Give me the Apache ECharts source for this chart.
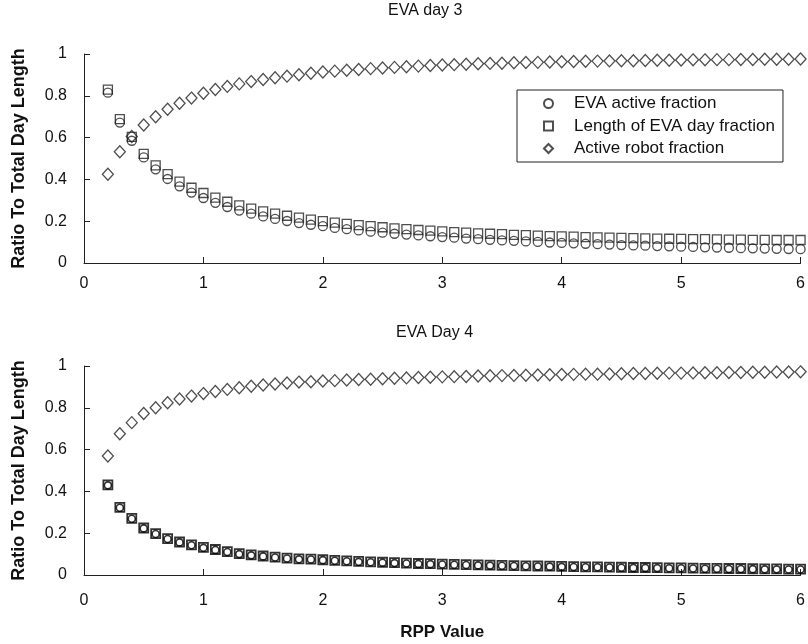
<!DOCTYPE html>
<html><head><meta charset="utf-8">
<script src="https://cdn.jsdelivr.net/npm/echarts@6/dist/echarts.min.js"></script>
<style>html,body{margin:0;padding:0;background:#fff}#c{width:808px;height:644px}</style>
</head><body><div id="c"></div>
<script>
var rpp = [0.2,0.3,0.4,0.5,0.6,0.7,0.8,0.9,1.0,1.1,1.2,1.3,1.4,1.5,1.6,1.7,1.8,1.9,2.0,2.1,2.2,2.3,2.4,2.5,2.6,2.7,2.8,2.9,3.0,3.1,3.2,3.3,3.4,3.5,3.6,3.7,3.8,3.9,4.0,4.1,4.2,4.3,4.4,4.5,4.6,4.7,4.8,4.9,5.0,5.1,5.2,5.3,5.4,5.5,5.6,5.7,5.8,5.9,6.0];
var seriesNames = ['EVA active fraction','Length of EVA day fraction','Active robot fraction'];
var panelTitles = ['EVA day 3','EVA Day 4'];
var yTicks = [0,0.2,0.4,0.6,0.8,1];
var xTicks = [0,1,2,3,4,5,6];

// Day 3
var d3Active = [0.815,0.672,0.585,0.505,0.448,0.402,0.367,0.337,0.311,0.288,0.268,0.251,0.236,0.223,0.211,0.201,0.191,0.183,0.176,0.168,0.162,0.156,0.150,0.145,0.140,0.136,0.132,0.128,0.124,0.121,0.117,0.114,0.111,0.108,0.106,0.103,0.101,0.098,0.096,0.094,0.092,0.090,0.088,0.086,0.084,0.083,0.081,0.080,0.078,0.077,0.075,0.074,0.073,0.071,0.070,0.069,0.068,0.067,0.066];
var d3Length = [0.830,0.688,0.603,0.522,0.467,0.425,0.389,0.360,0.335,0.313,0.293,0.276,0.260,0.247,0.236,0.226,0.217,0.208,0.200,0.193,0.187,0.181,0.176,0.171,0.166,0.162,0.158,0.155,0.151,0.148,0.145,0.142,0.140,0.138,0.135,0.133,0.131,0.129,0.127,0.126,0.124,0.123,0.121,0.120,0.119,0.118,0.117,0.116,0.115,0.114,0.114,0.113,0.112,0.112,0.111,0.111,0.110,0.110,0.110];
var d3Robot = [0.425,0.532,0.605,0.660,0.700,0.736,0.764,0.789,0.812,0.830,0.845,0.857,0.868,0.878,0.886,0.894,0.901,0.908,0.914,0.918,0.922,0.926,0.930,0.933,0.936,0.939,0.942,0.945,0.947,0.949,0.951,0.953,0.955,0.956,0.958,0.959,0.960,0.962,0.963,0.964,0.965,0.966,0.967,0.968,0.968,0.969,0.970,0.970,0.971,0.972,0.972,0.973,0.973,0.974,0.974,0.975,0.975,0.975,0.976];
// Day 4
var d4Active = [0.429,0.322,0.269,0.223,0.196,0.172,0.156,0.142,0.130,0.120,0.110,0.100,0.094,0.089,0.084,0.079,0.075,0.074,0.071,0.068,0.066,0.063,0.061,0.059,0.057,0.055,0.053,0.052,0.050,0.049,0.048,0.046,0.045,0.044,0.043,0.042,0.041,0.040,0.039,0.038,0.037,0.037,0.036,0.035,0.034,0.034,0.033,0.032,0.032,0.031,0.030,0.030,0.029,0.029,0.028,0.027,0.027,0.026,0.026];
var d4Length = [0.431,0.324,0.271,0.225,0.198,0.174,0.158,0.144,0.132,0.122,0.112,0.102,0.096,0.091,0.086,0.081,0.077,0.076,0.073,0.070,0.068,0.065,0.063,0.061,0.059,0.057,0.055,0.054,0.052,0.051,0.050,0.048,0.047,0.046,0.045,0.044,0.043,0.042,0.041,0.040,0.039,0.039,0.038,0.037,0.036,0.036,0.035,0.034,0.034,0.033,0.032,0.032,0.031,0.031,0.030,0.029,0.029,0.028,0.028];
var d4Robot = [0.569,0.676,0.729,0.773,0.800,0.824,0.842,0.856,0.868,0.878,0.888,0.896,0.903,0.909,0.914,0.919,0.923,0.925,0.928,0.930,0.933,0.935,0.937,0.939,0.941,0.943,0.945,0.946,0.948,0.949,0.950,0.952,0.953,0.954,0.955,0.956,0.957,0.958,0.959,0.960,0.961,0.961,0.962,0.963,0.964,0.964,0.965,0.966,0.966,0.967,0.968,0.968,0.969,0.969,0.970,0.970,0.971,0.971,0.972];

function pts(ys){ return rpp.map(function(x,i){ return [x, ys[i]]; }); }

var FONT = 'Liberation Sans, Arial, sans-serif';
var AX = '#222';

function xAxis(idx, withName){
  var a = {
    type:'value', gridIndex: idx, min: xTicks[0], max: xTicks[xTicks.length-1], interval: 1,
    axisLine:{show:true, lineStyle:{color:AX, width:1}},
    axisTick:{show:true, inside:true, length:6, lineStyle:{color:AX}},
    splitLine:{show:false},
    axisLabel:{color:'#111', fontSize:16, fontFamily:FONT, margin: idx===0 ? 13 : 18}
  };
  if (withName){
    a.name = 'RPP Value'; a.nameLocation = 'middle'; a.nameGap = 49;
    a.nameTextStyle = {color:'#111', fontSize:17, fontWeight:'bold', fontFamily:FONT};
  }
  return a;
}
function yAxis(idx){
  return {
    type:'value', gridIndex: idx, min: yTicks[0], max: yTicks[yTicks.length-1], interval: 0.2,
    name:'Ratio To Total Day Length', nameLocation:'middle', nameGap: 56,
    nameTextStyle:{color:'#111', fontSize:18, fontWeight:'bold', fontFamily:FONT},
    axisLine:{show:true, lineStyle:{color:AX, width:1}},
    axisTick:{show:true, inside:true, length:6, lineStyle:{color:AX}},
    splitLine:{show:false},
    axisLabel:{color:'#111', fontSize:16, fontFamily:FONT, margin:17}
  };
}
function sty(w, c){ return {color:'rgba(0,0,0,0)', borderColor:c || '#222', borderWidth:w}; }

var option = {
  backgroundColor:'#fff',
  animation:false,
  title:[
    {text:panelTitles[0], left:388, top:3, padding:0, textStyle:{fontSize:16, fontWeight:'normal', color:'#111', fontFamily:FONT}},
    {text:panelTitles[1], left:396, top:325, padding:0, textStyle:{fontSize:16, fontWeight:'normal', color:'#111', fontFamily:FONT}}
  ],
  legend:{
    orient:'vertical', left:517, top:90,
    padding:[5,8,5,26], itemGap:5.5, itemWidth:9, itemHeight:9,
    borderColor:'#222', borderWidth:1, backgroundColor:'#fff',
    textStyle:{fontSize:17, fontFamily:FONT, color:'#111', lineHeight:17, padding:[0,0,0,16]},
    data:[
      {name:seriesNames[0], icon:'circle'},
      {name:seriesNames[1], icon:'rect'},
      {name:seriesNames[2], icon:'diamond'}
    ]
  },
  grid:[
    {left:84, right:5, top:54, height:209},
    {left:84, right:5, top:366, height:209}
  ],
  xAxis:[xAxis(0,false), xAxis(1,true)],
  yAxis:[yAxis(0), yAxis(1)],
  series:[
    {type:'scatter', name:seriesNames[1], xAxisIndex:0, yAxisIndex:0, symbol:'rect', symbolSize:9, itemStyle:sty(1.3), data:pts(d3Length)},
    {type:'scatter', name:seriesNames[0], xAxisIndex:0, yAxisIndex:0, symbol:'circle', symbolSize:9, itemStyle:sty(1.3), data:pts(d3Active)},
    {type:'scatter', name:seriesNames[2], xAxisIndex:0, yAxisIndex:0, symbol:'diamond', symbolSize:[11,12], itemStyle:sty(1.3), data:pts(d3Robot)},
    {type:'scatter', name:seriesNames[1], xAxisIndex:1, yAxisIndex:1, symbol:'rect', symbolSize:9, itemStyle:sty(1.8,'#000'), data:pts(d4Length)},
    {type:'scatter', name:seriesNames[0], xAxisIndex:1, yAxisIndex:1, symbol:'circle', symbolSize:7, itemStyle:sty(1.6,'#000'), data:pts(d4Active)},
    {type:'scatter', name:seriesNames[2], xAxisIndex:1, yAxisIndex:1, symbol:'diamond', symbolSize:[11,12], itemStyle:sty(1.3), data:pts(d4Robot)}
  ]
};
var chart = echarts.init(document.getElementById('c'), null, {renderer:'canvas'});
chart.setOption(option);
</script>
</body></html>
